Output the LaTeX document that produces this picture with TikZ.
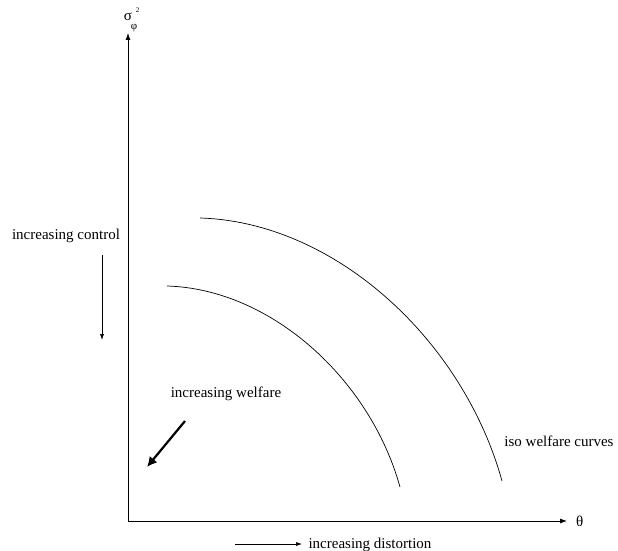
\documentclass[tikz,border=0pt]{standalone}
\usepackage{fontspec}
\setmainfont{Liberation Serif}
\usetikzlibrary{arrows.meta}
\begin{document}
\begin{tikzpicture}[x=1pt,y=-1pt,
  lbl/.style={font=\fontsize{15}{17}\selectfont, inner sep=0pt},
  axis/.style={line width=0.8pt, -{Latex[length=7pt,width=5pt]}},
  thin arrow/.style={line width=0.6pt, -{Latex[length=6pt,width=4pt]}},
  curve/.style={line width=0.7pt}]
\useasboundingbox (0,0) rectangle (618,551);
\coordinate (O) at (128,521);
\coordinate (ytop) at (128,33);
\coordinate (xend) at (567,521);
\draw[axis] (O) -- (ytop);
\draw[axis] (O) -- (xend);
\node[lbl, anchor=west] (theta) at (576,521) {θ};
\node[lbl] (sigma) at (128,17) {σ};
\node[inner sep=0pt, font=\fontsize{7}{7}\selectfont] (sup) at (137.5,10) {2};
\node[inner sep=0pt, font=\fontsize{11}{11}\selectfont] (sub) at (134,28) {φ};
% curves
\coordinate (c1s) at (167,286);
\coordinate (c1e) at (400,487);
\coordinate (c2s) at (200,218);
\coordinate (c2e) at (502,481);
\draw[curve] (c1s) .. controls (271,289) and (370,379) .. (c1e);
\draw[curve] (c2s) .. controls (335,222) and (463,340) .. (c2e);
% labels
\node[lbl] (ctrl) at (66,236) {increasing control};
\coordinate (ca) at (102,255);
\coordinate (cb) at (102,340);
\draw[thin arrow] (ca) -- (cb);
\node[lbl] (welf) at (226,394) {increasing welfare};
\coordinate (wa) at (185,421);
\coordinate (wb) at (147,467);
\draw[line width=2.2pt, -{Latex[length=10pt,width=10pt]}] (wa) -- (wb);
\node[lbl] (iso) at (559,441) {iso welfare curves};
\coordinate (da) at (235,544);
\coordinate (db) at (302,544);
\draw[thin arrow] (da) -- (db);
\node[lbl] (dist) at (370,545) {increasing distortion};
\end{tikzpicture}
\end{document}
